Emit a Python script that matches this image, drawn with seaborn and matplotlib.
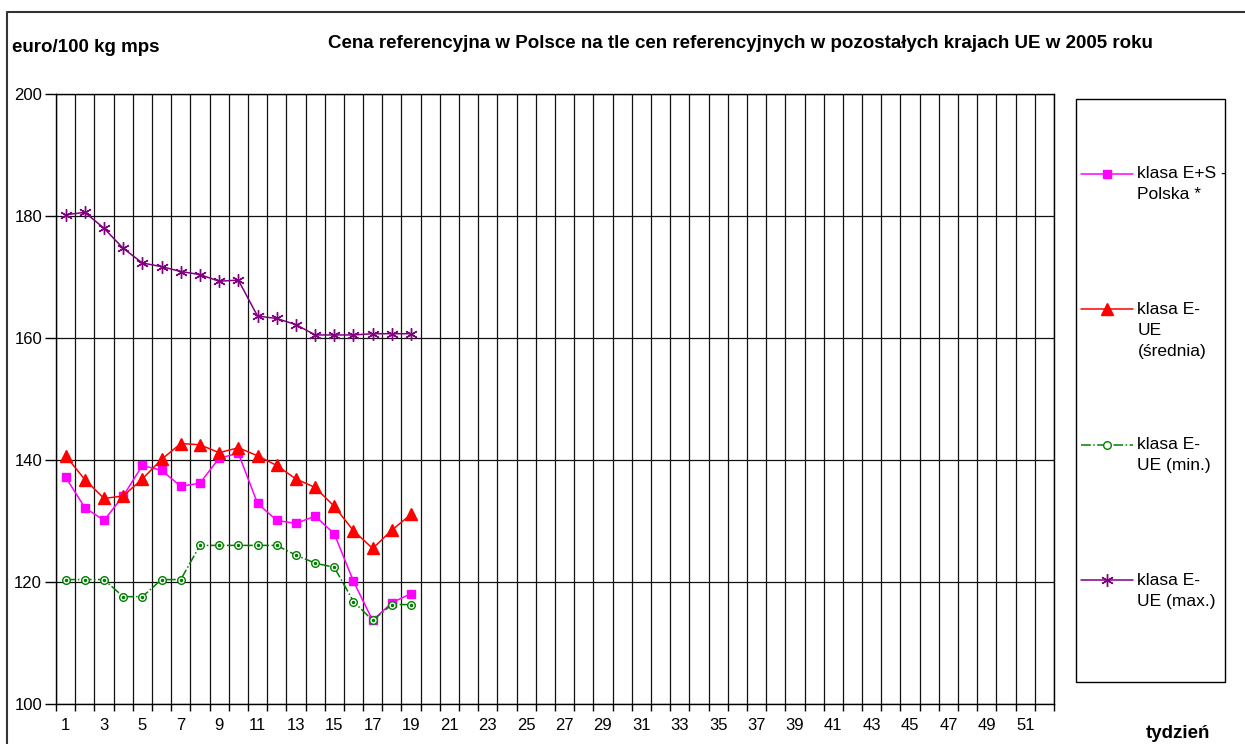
import pandas as pd
import matplotlib.pyplot as plt
import seaborn as sns
from matplotlib.lines import Line2D
from matplotlib.patches import Rectangle
from matplotlib.ticker import MultipleLocator

weeks = list(range(1, 20))
polska = [137.2, 132.2, 130.1, 134.1, 139.1, 138.3, 135.7, 136.2, 140.3, 141.1,
          132.9, 130.1, 129.6, 130.8, 127.9, 120.1, 113.7, 116.6, 118.1]
ue_srednia = [140.7, 136.8, 133.7, 134.1, 136.9, 140.1, 142.7, 142.5, 141.2, 142.0,
              140.7, 139.1, 136.9, 135.5, 132.4, 128.4, 125.5, 128.5, 131.1]
ue_min = [120.4, 120.4, 120.4, 117.6, 117.6, 120.4, 120.4, 126.0, 126.0, 126.0,
          126.0, 126.0, 124.4, 123.1, 122.4, 116.8, 113.7, 116.3, 116.3]
ue_max = [180.2, 180.6, 178.0, 174.7, 172.3, 171.7, 170.9, 170.4, 169.3, 169.5,
          163.6, 163.2, 162.2, 160.5, 160.5, 160.5, 160.7, 160.7, 160.7]

series_names = ["klasa E+S -\nPolska *", "klasa E-\nUE\n(średnia)",
                "klasa E-\nUE (min.)", "klasa E-\nUE (max.)"]
all_weeks = list(range(1, 53))
y_ticks = [100, 120, 140, 160, 180, 200]

df = pd.DataFrame({
    "tydzien": weeks * 4,
    "cena": polska + ue_srednia + ue_min + ue_max,
    "seria": [n for n in series_names for _ in weeks],
})

styles = {
    series_names[0]: dict(color="#FF00FF", marker="s", markersize=6, linestyle="-"),
    series_names[1]: dict(color="#FF0000", marker="^", markersize=8, linestyle="-"),
    series_names[2]: dict(color="#008000", marker="o", markersize=5.5, linestyle="-.",
                          markerfacecolor="white"),
    series_names[3]: dict(color="#800080", marker=(6, 2, 0), markersize=9, linestyle="-"),
}

sns.set_theme(style="white")
plt.rcParams["font.family"] = ["Liberation Sans", "DejaVu Sans"]
plt.rcParams["text.color"] = "black"
plt.rcParams["xtick.color"] = "black"
plt.rcParams["ytick.color"] = "black"

fig = plt.figure(figsize=(12.45, 7.44), dpi=100)
ax = fig.add_axes([56 / 1245, 1 - 704 / 744, (1054 - 56) / 1245, (704 - 94) / 744])

for name in series_names:
    st = dict(styles[name])
    color = st.pop("color")
    st.setdefault("markerfacecolor", color)
    sns.lineplot(data=df[df["seria"] == name], x="tydzien", y="cena", ax=ax,
                 color=color, markeredgecolor=color, markeredgewidth=1.0,
                 linewidth=1.1, label=name, legend=False, **st)

# small centre dot inside the open circles of the min series
ax.plot(weeks, ue_min, linestyle="none", marker="o", markersize=1.5, color="#008000")

ax.set_xlim(0.5, 52.5)
ax.set_ylim(100, 200)
ax.set_yticks(y_ticks)
ax.set_xticks(all_weeks[::2])
ax.xaxis.set_minor_locator(MultipleLocator(1, offset=0.5))
ax.grid(False)
ax.grid(True, which="minor", axis="x", color="#111111", linewidth=0.9)
ax.grid(True, which="major", axis="y", color="#111111", linewidth=0.9)
ax.tick_params(axis="y", which="major", direction="out", length=8, width=1,
               color="black", pad=2, labelsize=12, left=True)
ax.tick_params(axis="x", which="major", length=0, pad=10, labelsize=12)
ax.tick_params(axis="x", which="minor", direction="out", length=5, width=1,
               color="black", bottom=True)
for sp in ax.spines.values():
    sp.set_color("black")
    sp.set_linewidth(1)
ax.set_xlabel("")
ax.set_ylabel("")

fig.text(12 / 1245, 1 - 47 / 744, "euro/100 kg mps", fontsize=13.5,
         fontweight="bold", ha="left", va="center")
fig.text(740 / 1245, 1 - 43 / 744,
         "Cena referencyjna w Polsce na tle cen referencyjnych w pozostałych krajach UE w 2005 roku",
         fontsize=13.5, fontweight="bold", ha="center", va="center")
fig.text(1178 / 1245, 1 - 733 / 744, "tydzień", fontsize=13.5,
         fontweight="bold", ha="center", va="center")

# outer chart frame (cut by the image edge) and legend box
fig.add_artist(Line2D([7 / 1245, 7 / 1245, 1.0], [0, 1 - 12 / 744, 1 - 12 / 744],
                      transform=fig.transFigure, color="#333333", linewidth=1.5))
fig.add_artist(Rectangle((1076 / 1245, 1 - 682 / 744), (1225 - 1076) / 1245,
                         (682 - 99) / 744, transform=fig.transFigure,
                         fill=False, edgecolor="black", linewidth=1))

# pad every label to 5 lines so the marker sits on the first text line
handles, labels = ax.get_legend_handles_labels()
padded = []
for lab in labels:
    n = lab.count("\n")
    padded.append("\n\n" + lab + "\n" * (2 - n))
leg = fig.legend(handles, padded, loc="center left",
                 bbox_to_anchor=(1081 / 1245, 1 - 377 / 744),
                 frameon=False, fontsize=12.5, handlelength=3, handletextpad=0.25,
                 labelspacing=2.1, borderpad=0, borderaxespad=0)
for t in leg.get_texts():
    t.set_linespacing(1.5)

fig.savefig("out.png", dpi=100)
